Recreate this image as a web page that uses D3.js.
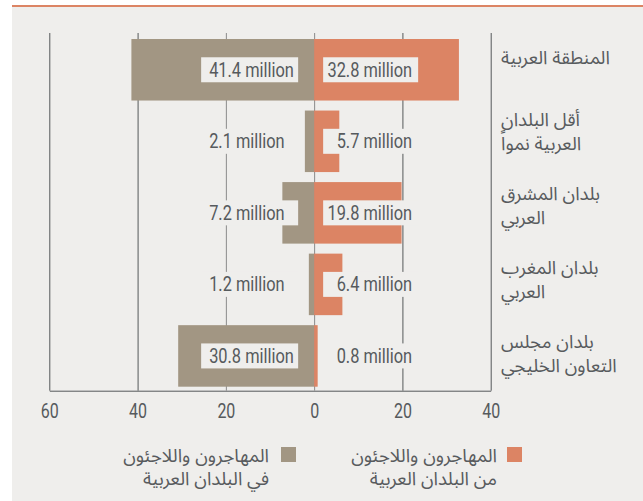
<!DOCTYPE html>
<html>
<head>
  <meta charset="utf-8">
  <title>Migrants and refugees</title>
  <style>
    body { margin: 0; background: #ffffff; }
    .num { font-family: Roboto, "Liberation Sans", sans-serif; fill: #565a5d; }
    .ar { font-family: "Noto Sans Arabic", "DejaVu Sans", sans-serif; fill: #585b5e; }
  </style>
</head>
<body>
  <svg id="chart" width="643" height="501"></svg>

  <script src="https://d3js.org/d3.v7.min.js"></script>
  <script>
    // data
    const categories = [
      ["المنطقة العربية"],
      ["أقل البلدان", "العربية نمواً"],
      ["بلدان المشرق", "العربي"],
      ["بلدان المغرب", "العربي"],
      ["بلدان مجلس", "التعاون الخليجي"]
    ];
    const inArab = [41.4, 2.1, 7.2, 1.2, 30.8];    // gray, to the left
    const fromArab = [32.8, 5.7, 19.8, 6.4, 0.8];  // orange, to the right
    const tickValues = [-60, -40, -20, 0, 20, 40];
    const legendLabels = [
      ["المهاجرون واللاجئون", "من البلدان العربية"],
      ["المهاجرون واللاجئون", "في البلدان العربية"]
    ];

    const orange = "#dc8464";
    const gray = "#a29683";
    const bg = "#efeeec";
    const squeeze = 0.82; // fake a condensed face

    const svg = d3.select("#chart");

    // background panel + top rule
    svg.append("rect").attr("x", 12).attr("y", 6).attr("width", 631).attr("height", 495).attr("fill", bg);
    svg.append("rect").attr("x", 12).attr("y", 5).attr("width", 631).attr("height", 2).attr("fill", orange);

    const x = d3.scaleLinear().domain([-60, 40]).range([49.3, 490.7]);
    const y = d3.scaleBand().domain(d3.range(categories.length))
      .range([34, 391.7]).paddingInner(0.14).paddingOuter(0.07);
    // the category names sit on a slightly looser rhythm than the bars
    const yLabel = d3.scaleLinear().domain([0, categories.length - 1]).range([58, 354]);

    const gridTop = 33, gridBottom = 390.7;

    // gridlines + axis
    const axis = d3.axisBottom(x)
      .tickValues(tickValues)
      .tickSize(-(gridBottom - gridTop))
      .tickSizeOuter(0)
      .tickPadding(13)
      .tickFormat(d => Math.abs(d));

    const gAxis = svg.append("g")
      .attr("transform", `translate(0,${gridBottom})`)
      .call(axis);
    gAxis.select(".domain").attr("stroke", "#55585a");
    gAxis.selectAll(".tick line")
      .attr("stroke", d => (d === -20 || d === 0) ? "#8a8a8a" : "#55585a");
    gAxis.selectAll(".tick text")
      .attr("class", "num")
      .attr("font-size", 19.5)
      .attr("fill", "#565a5d")
      .attr("transform", `scale(${squeeze},1)`);

    // bars
    svg.append("g").selectAll("rect")
      .data(inArab)
      .join("rect")
      .attr("x", d => x(-d))
      .attr("y", (d, i) => y(i))
      .attr("width", d => x(0) - x(-d))
      .attr("height", y.bandwidth())
      .attr("fill", gray);

    svg.append("g").selectAll("rect")
      .data(fromArab)
      .join("rect")
      .attr("x", x(0))
      .attr("y", (d, i) => y(i))
      .attr("width", d => x(d) - x(0))
      .attr("height", y.bandwidth())
      .attr("fill", orange);

    // value labels with background boxes
    const x0 = x(0);
    const labels = svg.append("g");
    categories.forEach((c, i) => {
      const cy = y(i) + y.bandwidth() / 2;
      labels.append("rect").attr("x", x0 - 113).attr("y", cy - 12.5)
        .attr("width", 97).attr("height", 25).attr("fill", bg);
      labels.append("rect").attr("x", x0 + 9).attr("y", cy - 12.5)
        .attr("width", 95).attr("height", 25).attr("fill", bg);
      labels.append("text").attr("class", "num")
        .attr("transform", `translate(${x0 - 105},${cy + 7}) scale(${squeeze},1)`)
        .attr("font-size", 20)
        .text(inArab[i] + " million");
      labels.append("text").attr("class", "num")
        .attr("transform", `translate(${x0 + 98},${cy + 7}) scale(${squeeze},1)`)
        .attr("text-anchor", "end")
        .attr("font-size", 20)
        .text(fromArab[i] + " million");
    });

    // category labels (right side)
    const catG = svg.append("g");
    categories.forEach((lines, i) => {
      const cy = yLabel(i);
      lines.forEach((l, k) => {
        catG.append("text").attr("class", "ar")
          .attr("font-size", 18.5)
          .attr("x", 501)
          .attr("y", cy + 6 - (lines.length - 1) * 11.7 + k * 23.4)
          .text(l);
      });
    });

    // legend
    const legendItems = [
      { color: orange, sx: 507, tx: 497, lines: legendLabels[0] },
      { color: gray, sx: 281, tx: 269, lines: legendLabels[1] }
    ];
    const lg = svg.append("g");
    legendItems.forEach(item => {
      lg.append("rect").attr("x", item.sx).attr("y", 447)
        .attr("width", 15).attr("height", 15).attr("fill", item.color);
      item.lines.forEach((l, k) => {
        lg.append("text").attr("class", "ar")
          .attr("font-size", 18.5)
          .attr("text-anchor", "end")
          .attr("x", item.tx).attr("y", 461.5 + k * 23.4)
          .text(l);
      });
    });
  </script>
</body>
</html>
